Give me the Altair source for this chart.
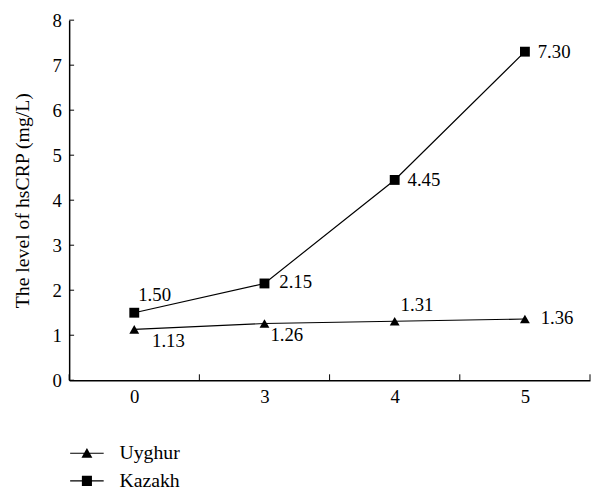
import altair as alt
import pandas as pd

categories = ["0", "3", "4", "5"]
uyghur = [1.13, 1.26, 1.31, 1.36]
kazakh = [1.50, 2.15, 4.45, 7.30]
series_names = ["Uyghur", "Kazakh"]
y_ticks = [0, 1, 2, 3, 4, 5, 6, 7, 8]
x_bounds = [0, 1, 2, 3, 4]

W, H = 528, 365
FONT = "Liberation Serif"

rows = []
for i, c in enumerate(categories):
    rows.append({"cat": c, "pos": i + 0.5, "series": "Uyghur", "Series": "Uyghur", "value": uyghur[i], "label": f"{uyghur[i]:.2f}"})
    rows.append({"cat": c, "pos": i + 0.5, "series": "Kazakh", "Series": "Kazakh", "value": kazakh[i], "label": f"{kazakh[i]:.2f}"})
df = pd.DataFrame(rows)

xs = alt.Scale(domain=[0, 4], nice=False, zero=False)
ys = alt.Scale(domain=[0, 8], nice=False)

label_expr = "['" + "','".join(categories) + "'][floor(datum.value)]"

x_enc = alt.X("pos:Q", scale=xs, axis=alt.Axis(values=[0.5, 1.5, 2.5, 3.5], labelExpr=label_expr,
                                                  ticks=False, grid=False, title=None, domainColor="black",
                                                  labelFont=FONT, labelFontSize=19, labelColor="black", labelPadding=8))
y_enc = alt.Y("value:Q", scale=ys, axis=alt.Axis(values=y_ticks, ticks=False, grid=False, domainColor="black",
                                                    title="The level of hsCRP (mg/L)", titleFont=FONT, titleFontSize=20,
                                                    titleFontWeight="normal", titleColor="black", titlePadding=20,
                                                    labelFont=FONT, labelFontSize=19, labelColor="black", labelPadding=8))

base = alt.Chart(df)

lines = base.mark_line(color="black", strokeWidth=1.2).encode(x=x_enc, y=y_enc, detail="series:N")
points = base.mark_point(filled=True, color="black", opacity=1).encode(
    x="pos:Q", y="value:Q",
    shape=alt.Shape("series:N", scale=alt.Scale(domain=series_names, range=["triangle-up", "square"]), legend=None),
    size=alt.value(100))

# legend glyphs: thin filled bar (the line) + filled marker
leg_paths = ["M-2,-0.07H2V0.07H-2ZM-0.65,0.55L0,-0.62L0.65,0.55Z",
             "M-2,-0.07H2V0.07H-2ZM-0.6,-0.6H0.6V0.6H-0.6Z"]
ghost = base.transform_filter("false").mark_point(filled=True, color="black", opacity=1).encode(
    x="pos:Q", y="value:Q",
    shape=alt.Shape("Series:N", scale=alt.Scale(domain=series_names, range=leg_paths),
                    legend=alt.Legend(title=None, orient="none", legendX=8, legendY=429)))

# label placement (pixel offsets from each marker), per series and category index
offsets = {
    ("Uyghur", 0): (18, 12), ("Uyghur", 1): (6, 12), ("Uyghur", 2): (6, -16), ("Uyghur", 3): (16, -1),
    ("Kazakh", 0): (4, -18), ("Kazakh", 1): (15, -1), ("Kazakh", 2): (13, 0), ("Kazakh", 3): (13, 0),
}
texts = []
for (s, i), (dx, dy) in offsets.items():
    texts.append(base.transform_filter(f"datum.series=='{s}' && datum.pos=={i + 0.5}").mark_text(
        font=FONT, fontSize=19, color="black", align="left", baseline="middle", dx=dx, dy=dy).encode(
        x="pos:Q", y="value:Q", text="label:N"))

ytick_df = pd.DataFrame({"v": y_ticks})
ytk = alt.Chart(ytick_df).mark_rule(color="black", strokeWidth=1).encode(
    y=alt.Y("v:Q", scale=ys), x=alt.value(0), x2=alt.value(5))
xtick_df = pd.DataFrame({"b": x_bounds})
xtk = alt.Chart(xtick_df).mark_rule(color="black", strokeWidth=1).encode(
    x=alt.X("b:Q", scale=xs), y=alt.value(H), y2=alt.value(H - 6))

chart = alt.layer(lines, points, ghost, *texts, ytk, xtk).resolve_scale(
    shape="independent"
).properties(
    width=W, height=H, padding={"left": 4, "top": 0, "right": 0, "bottom": 0}
).configure_view(stroke=None).configure_axis(domainWidth=1.5).configure_legend(
    padding=0, symbolSize=289, symbolFillColor="black", symbolStrokeWidth=0, symbolOpacity=1,
    labelFont=FONT, labelFontSize=20, labelColor="black", rowPadding=8, labelOffset=23, labelLimit=300
)

chart.save("out.html", embed_options={"renderer": "svg", "actions": False})
